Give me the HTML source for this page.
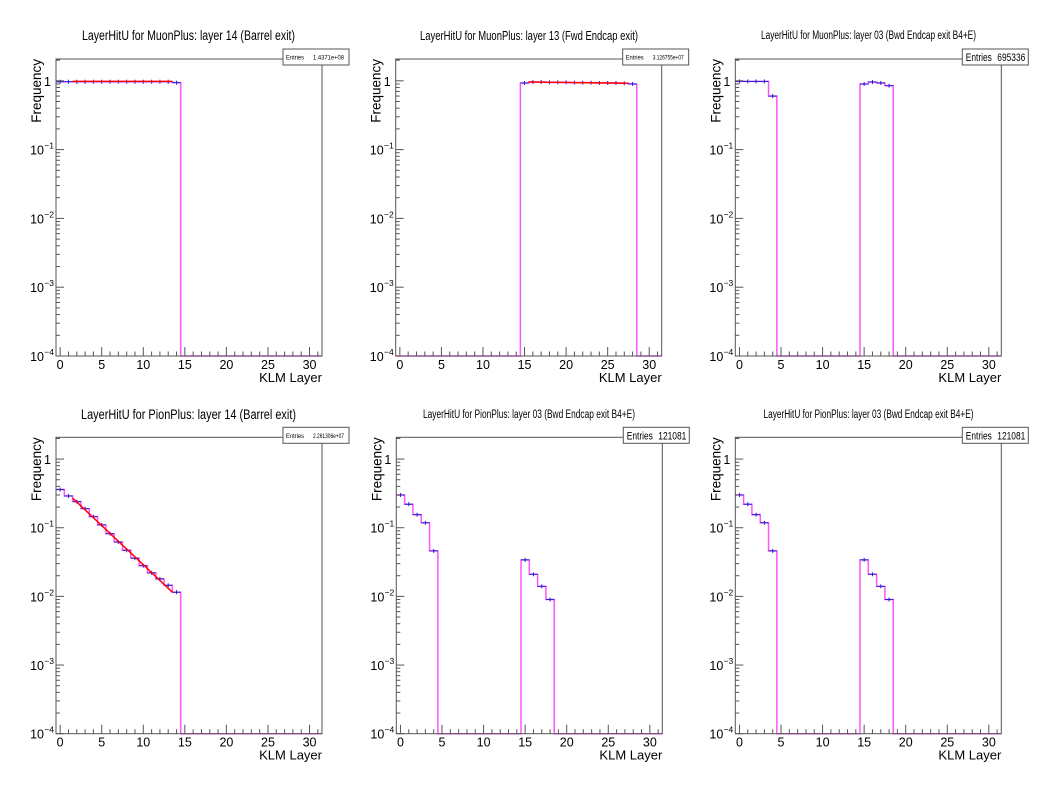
<!DOCTYPE html>
<html><head><meta charset="utf-8"><style>
html,body{margin:0;padding:0;background:#fff;}
svg{display:block;font-family:"Liberation Sans",Arial,sans-serif;}
</style></head><body>
<svg id="s" width="1058" height="794" viewBox="0 0 1058 794" xmlns="http://www.w3.org/2000/svg"></svg>
<script>
const S=document.getElementById('s');let out='';
const panels=[
 {L:56,T:59,B:356,title:"LayerHitU for MuonPlus: layer 14 (Barrel exit)",tx:188.5,ty:40,tw:213,fs:13.5,ent:"1.4371e+08",big:false,
  vals:{0:.97,1:.97,2:.97,3:.97,4:.97,5:.97,6:.97,7:.97,8:.97,9:.97,10:.97,11:.97,12:.97,13:.97,14:.94},fit:[1.5,.98,13.5,.98]},
 {L:395.7,T:59,B:356,title:"LayerHitU for MuonPlus: layer 13 (Fwd Endcap exit)",tx:529,ty:40,tw:218,fs:12.5,ent:"3.126755e+07",big:false,
  vals:{15:.93,16:.96,17:.96,18:.95,19:.95,20:.95,21:.94,22:.94,23:.94,24:.93,25:.93,26:.93,27:.92,28:.9},fit:[15.5,.96,27.5,.92]},
 {L:735.3,T:59,B:356,title:"LayerHitU for MuonPlus: layer 03 (Bwd Endcap exit B4+E)",tx:868.5,ty:39,tw:215,fs:11.5,ent:"695336",big:true,
  vals:{0:.98,1:.98,2:.98,3:.98,4:.6,15:.9,16:.96,17:.93,18:.85}},
 {L:56,T:437.3,B:733.7,title:"LayerHitU for PionPlus: layer 14 (Barrel exit)",tx:188.5,ty:419,tw:215,fs:13.5,ent:"2.261306e+07",big:false,
  vals:{0:.36,1:.29,2:.24,3:.19,4:.145,5:.11,6:.082,7:.062,8:.047,9:.036,10:.028,11:.022,12:.018,13:.0145,14:.0115},fit:[1.5,.27,13.5,.0115]},
 {L:396.3,T:437.3,B:733.7,title:"LayerHitU for PionPlus: layer 03 (Bwd Endcap exit B4+E)",tx:529,ty:418,tw:212,fs:11.5,ent:"121081",big:true,
  vals:{0:.30,1:.22,2:.155,3:.118,4:.046,15:.034,16:.021,17:.014,18:.009}},
 {L:735.3,T:437.3,B:733.7,title:"LayerHitU for PionPlus: layer 03 (Bwd Endcap exit B4+E)",tx:868.5,ty:418,tw:210,fs:11.5,ent:"121081",big:true,
  vals:{0:.30,1:.22,2:.155,3:.118,4:.046,15:.034,16:.021,17:.014,18:.009}}
];
for(const p of panels){
 const W=266,L=p.L,R=L+W,T=p.T,B=p.B;
 const dec=(B-T)/4.317;
 const X=v=>L+(v+0.5)*W/32;
 const Y=v=>B-(Math.log10(v)+4)*dec;
 out+=`<text x="${p.tx}" y="${p.ty}" font-size="${p.fs}" text-anchor="middle" textLength="${p.tw}" lengthAdjust="spacingAndGlyphs" fill="#000">${p.title}</text>`;
 let d='';let prev=null;
 for(let i=0;i<32;i++){const v=p.vals[i];const y=v?Y(v):B;
   if(prev===null){d=`M${X(i-0.5)},${y}`;} else {d+=` L${X(i-0.5)},${y}`;}
   d+=` L${X(i+0.5)},${y}`;prev=y;}
 d+=` L${X(31.5)},${B}`;
 out+=`<path d="${d}" fill="none" stroke="#f5f" stroke-width="1.5"/>`;
 for(const k in p.vals){const i=+k,y=Y(p.vals[k]);
   out+=`<line x1="${X(i-0.5)}" y1="${y}" x2="${X(i+0.5)}" y2="${y}" stroke="#22c" stroke-width="1"/>`;
   out+=`<line x1="${X(i)}" y1="${y-2}" x2="${X(i)}" y2="${y+2}" stroke="#22c" stroke-width="1"/>`;}
 if(p.fit){const f=p.fit;out+=`<line x1="${X(f[0])}" y1="${Y(f[1])}" x2="${X(f[2])}" y2="${Y(f[3])}" stroke="#f00" stroke-width="1.5"/>`;}
 out+=`<rect x="${L}" y="${T}" width="${W}" height="${B-T}" fill="none" stroke="#555" stroke-width="1"/>`;
 for(let i=0;i<=31;i++){const x=X(i),len=i%5==0?9:4.5;
   out+=`<line x1="${x}" y1="${B}" x2="${x}" y2="${B-len}" stroke="#555"/>`;
   if(i%5==0)out+=`<text x="${x}" y="${B+13}" font-size="12.5" text-anchor="middle">${i}</text>`;}
 out+=`<text x="${R}" y="${B+26}" font-size="13" text-anchor="end">KLM Layer</text>`;
 for(let e=-4;e<=0;e++){for(let m=1;m<=9;m++){const v=m*Math.pow(10,e);const y=Y(v);if(y<T)continue;
   const len=m==1?8:4;out+=`<line x1="${L}" y1="${y}" x2="${L+len}" y2="${y}" stroke="#555"/>`;}
   const y=Y(Math.pow(10,e));
   if(e==0)out+=`<text x="${L-5}" y="${y+5}" font-size="12.5" text-anchor="end">1</text>`;
   else out+=`<text x="${L-12}" y="${y+5}" font-size="12.5" text-anchor="end">10</text><text x="${L-2}" y="${y-1}" font-size="8.5" text-anchor="end">−${-e}</text>`;}
 {const yy=Y(2);if(yy>T)out+=`<line x1="${L}" y1="${yy}" x2="${L+4}" y2="${yy}" stroke="#555"/>`;}
 out+=`<text transform="translate(${L-15},${T}) rotate(-90)" font-size="13.5" text-anchor="end">Frequency</text>`;
 const bx=R-39,by=T-10,bw=66,bh=16;
 out+=`<rect x="${bx}" y="${by}" width="${bw}" height="${bh}" fill="#fff" stroke="#555"/>`;
 if(p.big){out+=`<text x="${bx+3.5}" y="${by+12}" font-size="11" textLength="26" lengthAdjust="spacingAndGlyphs">Entries</text><text x="${bx+35}" y="${by+12}" font-size="11" textLength="28" lengthAdjust="spacingAndGlyphs">${p.ent}</text>`;}
 else{out+=`<text x="${bx+3}" y="${by+10.5}" font-size="6.5" textLength="18" lengthAdjust="spacingAndGlyphs">Entries</text><text x="${bx+30}" y="${by+10.5}" font-size="6.5" textLength="31" lengthAdjust="spacingAndGlyphs">${p.ent}</text>`;}
}
S.innerHTML=out;
</script>
</body></html>
